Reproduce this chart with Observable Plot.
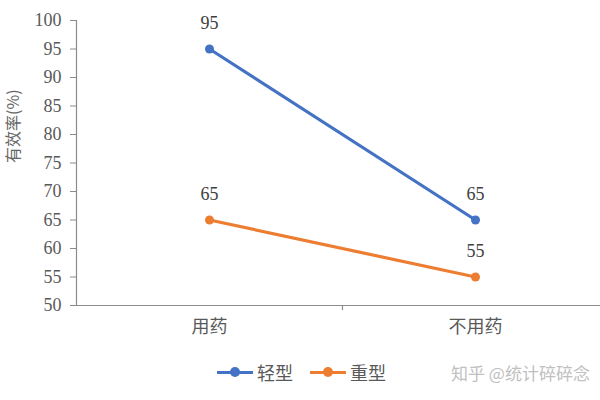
<!DOCTYPE html>
<html>
<head>
<meta charset="utf-8">
<script src="https://cdn.jsdelivr.net/npm/d3@7"></script>
<script src="https://cdn.jsdelivr.net/npm/@observablehq/plot@0.6"></script>
<style>
  body { margin: 0; background: #fff; }
  #wrap { position: relative; width: 600px; height: 400px; overflow: hidden; }
  .legend { position: absolute; top: 359px; left: 217px; display: flex; align-items: center; font-family: "Noto Sans CJK SC", sans-serif; font-size: 18px; line-height: 26px; color: #595959; }
  .item { display: flex; align-items: center; margin-right: 17px; }
  .sw { position: relative; width: 36px; height: 20px; margin-right: 4px; }
  .sw .ln { position: absolute; left: 0; right: 0; top: 8.5px; height: 3px; }
  .sw .dt { position: absolute; left: 13px; top: 5px; width: 10px; height: 10px; border-radius: 50%; }
  .wm { position: absolute; top: 360px; left: 451px; font-family: "Noto Sans CJK SC", sans-serif; font-size: 17px; line-height: 26px; color: #c0c0c0; white-space: nowrap; }
</style>
</head>
<body>
<div id="wrap"></div>
<script>
const categories = ["用药", "不用药"];
const seriesNames = ["轻型", "重型"];
const mildValues = [95, 65];
const severeValues = [65, 55];
const yTicks = [50, 55, 60, 65, 70, 75, 80, 85, 90, 95, 100];
const colors = ["#4472C4", "#ED7D31"];

const data = [];
[mildValues, severeValues].forEach((vals, s) => {
  vals.forEach((v, i) => data.push({series: seriesNames[s], cat: categories[i], xi: i + 0.5, value: v}));
});
const yMin = yTicks[0], yMax = yTicks[yTicks.length - 1];
const dividers = d3.range(1, categories.length);

const serif = "'Liberation Serif', 'DejaVu Serif', serif";
const cjk = "'Noto Sans CJK SC', sans-serif";
const axisGray = "#8c8c8c";

const chart = Plot.plot({
  width: 600,
  height: 345,
  marginLeft: 76,
  marginTop: 20,
  marginBottom: 40,
  marginRight: 0,
  x: {type: "linear", domain: [0, categories.length], range: [76, 608]},
  y: {type: "linear", domain: [yMin, yMax], range: [305, 20]},
  color: {domain: seriesNames, range: colors},
  style: {background: "#fff", overflow: "hidden"},
  marks: [
    Plot.axisY({ticks: yTicks, tickSize: 6, tickPadding: 9, fontSize: 18, fontFamily: serif, color: "#595959", stroke: axisGray, label: null}),
    Plot.ruleX([0], {y1: yMin, y2: yMax, stroke: axisGray, strokeWidth: 1.2}),
    Plot.ruleY([yMin], {stroke: axisGray, strokeWidth: 1.2}),
    Plot.ruleX(dividers, {y1: yMin, y2: yMin - 0.9, stroke: axisGray, strokeWidth: 1.2}),
    Plot.axisX({ticks: categories.map((c, i) => i + 0.5), tickFormat: d => categories[Math.floor(d)], tickSize: 0, tickPadding: 15, fontSize: 18, fontFamily: cjk, color: "#595959", label: null}),
    Plot.text(["有效率(%)"], {frameAnchor: "left", dx: -63, rotate: -90, fontSize: 16, fontFamily: cjk, fill: "#666666"}),
    Plot.line(data, {x: "xi", y: "value", z: "series", stroke: "series", strokeWidth: 3.2}),
    Plot.dot(data, {x: "xi", y: "value", fill: "series", r: 4.5}),
    Plot.text(data, {x: "xi", y: "value", text: d => String(d.value), dy: -26, fontSize: 18, fontFamily: serif, fill: "#404040"})
  ]
});

const wrap = document.getElementById("wrap");
wrap.appendChild(chart);

const legend = document.createElement("div");
legend.className = "legend";
seriesNames.forEach((n, i) => {
  const it = document.createElement("div");
  it.className = "item";
  it.innerHTML = `<div class="sw"><div class="ln" style="background:${colors[i]}"></div><div class="dt" style="background:${colors[i]}"></div></div><span>${n}</span>`;
  legend.appendChild(it);
});
wrap.appendChild(legend);

const wm = document.createElement("div");
wm.className = "wm";
wm.textContent = "知乎 @统计碎碎念";
wrap.appendChild(wm);
</script>
</body>
</html>
